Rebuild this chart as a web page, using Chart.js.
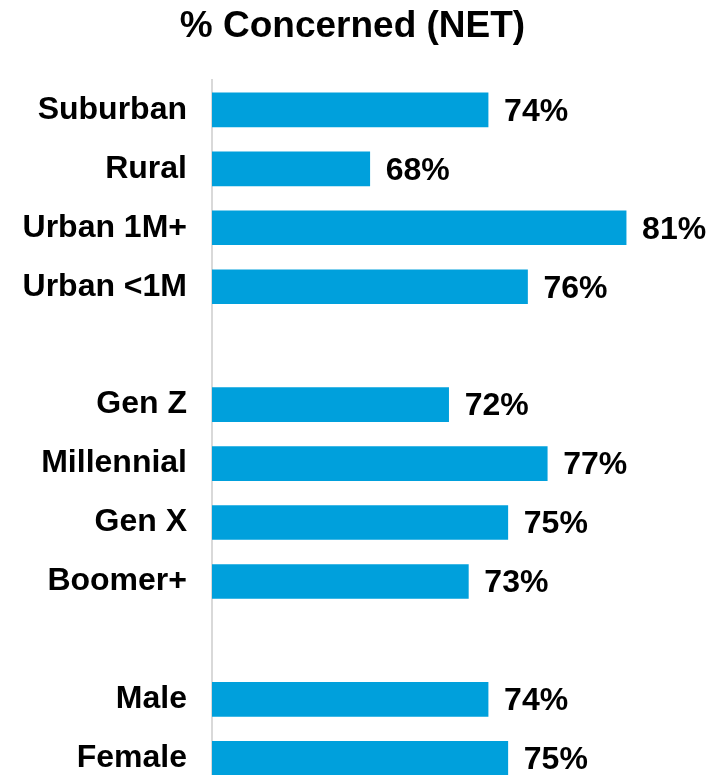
<!DOCTYPE html>
<html>
<head>
<meta charset="utf-8">
<script src="https://cdn.jsdelivr.net/npm/chart.js@4/dist/chart.umd.min.js"></script>
<style>
  html, body { margin: 0; padding: 0; background: #fff; overflow: hidden; }
  #netChart { display: block; }
</style>
</head>
<body>
<!-- taller than the window: the last row runs past the bottom edge -->
<canvas id="netChart" width="728" height="824"></canvas>
<script>
// groups are separated by blank rows (empty label, no value)
const groups = ["Suburban", "Rural", "Urban 1M+", "Urban <1M", "",
                "Gen Z", "Millennial", "Gen X", "Boomer+", "",
                "Male", "Female"];
const concerned = [74, 68, 81, 76, null,
                   72, 77, 75, 73, null,
                   74, 75];
const chartTitle = "% Concerned (NET)";

const barBlue = "#00A0DC";
const fontFamily = "'Liberation Sans', Arial, Helvetica, sans-serif";

// prints the percentage just past the end of each bar
const valueLabels = {
  id: "valueLabels",
  afterDatasetsDraw(chart) {
    const ctx = chart.ctx;
    const meta = chart.getDatasetMeta(0);
    ctx.save();
    ctx.font = "bold 32px " + fontFamily;
    ctx.fillStyle = "#000";
    ctx.textAlign = "left";
    ctx.textBaseline = "middle";
    meta.data.forEach(function (bar, i) {
      const v = chart.data.datasets[0].data[i];
      if (v == null) return;
      ctx.fillText(v + "%", bar.x + 16, bar.y + 2);
    });
    ctx.restore();
  }
};

new Chart(document.getElementById("netChart"), {
  type: "bar",
  data: {
    labels: groups,
    datasets: [{
      data: concerned,
      backgroundColor: barBlue,
      barThickness: 34
    }]
  },
  options: {
    indexAxis: "y",
    responsive: false,
    animation: false,
    layout: { padding: { left: 0, right: 23, top: 0, bottom: 12 } },
    plugins: {
      legend: { display: false },
      tooltip: { enabled: false },
      title: {
        display: true,
        text: chartTitle,
        color: "#000",
        font: { family: fontFamily, size: 37, weight: "bold" },
        padding: { top: 5, bottom: 31 }
      }
    },
    scales: {
      x: {
        display: false,
        min: 60,
        max: 85
      },
      y: {
        grid: { display: false },
        border: { display: true, color: "#D9D9D9", width: 2 },
        ticks: {
          color: "#000",
          padding: 17,
          font: { family: fontFamily, size: 32, weight: "bold" }
        },
        afterFit(scale) { scale.width = 212; }
      }
    }
  },
  plugins: [valueLabels]
});
</script>
</body>
</html>
